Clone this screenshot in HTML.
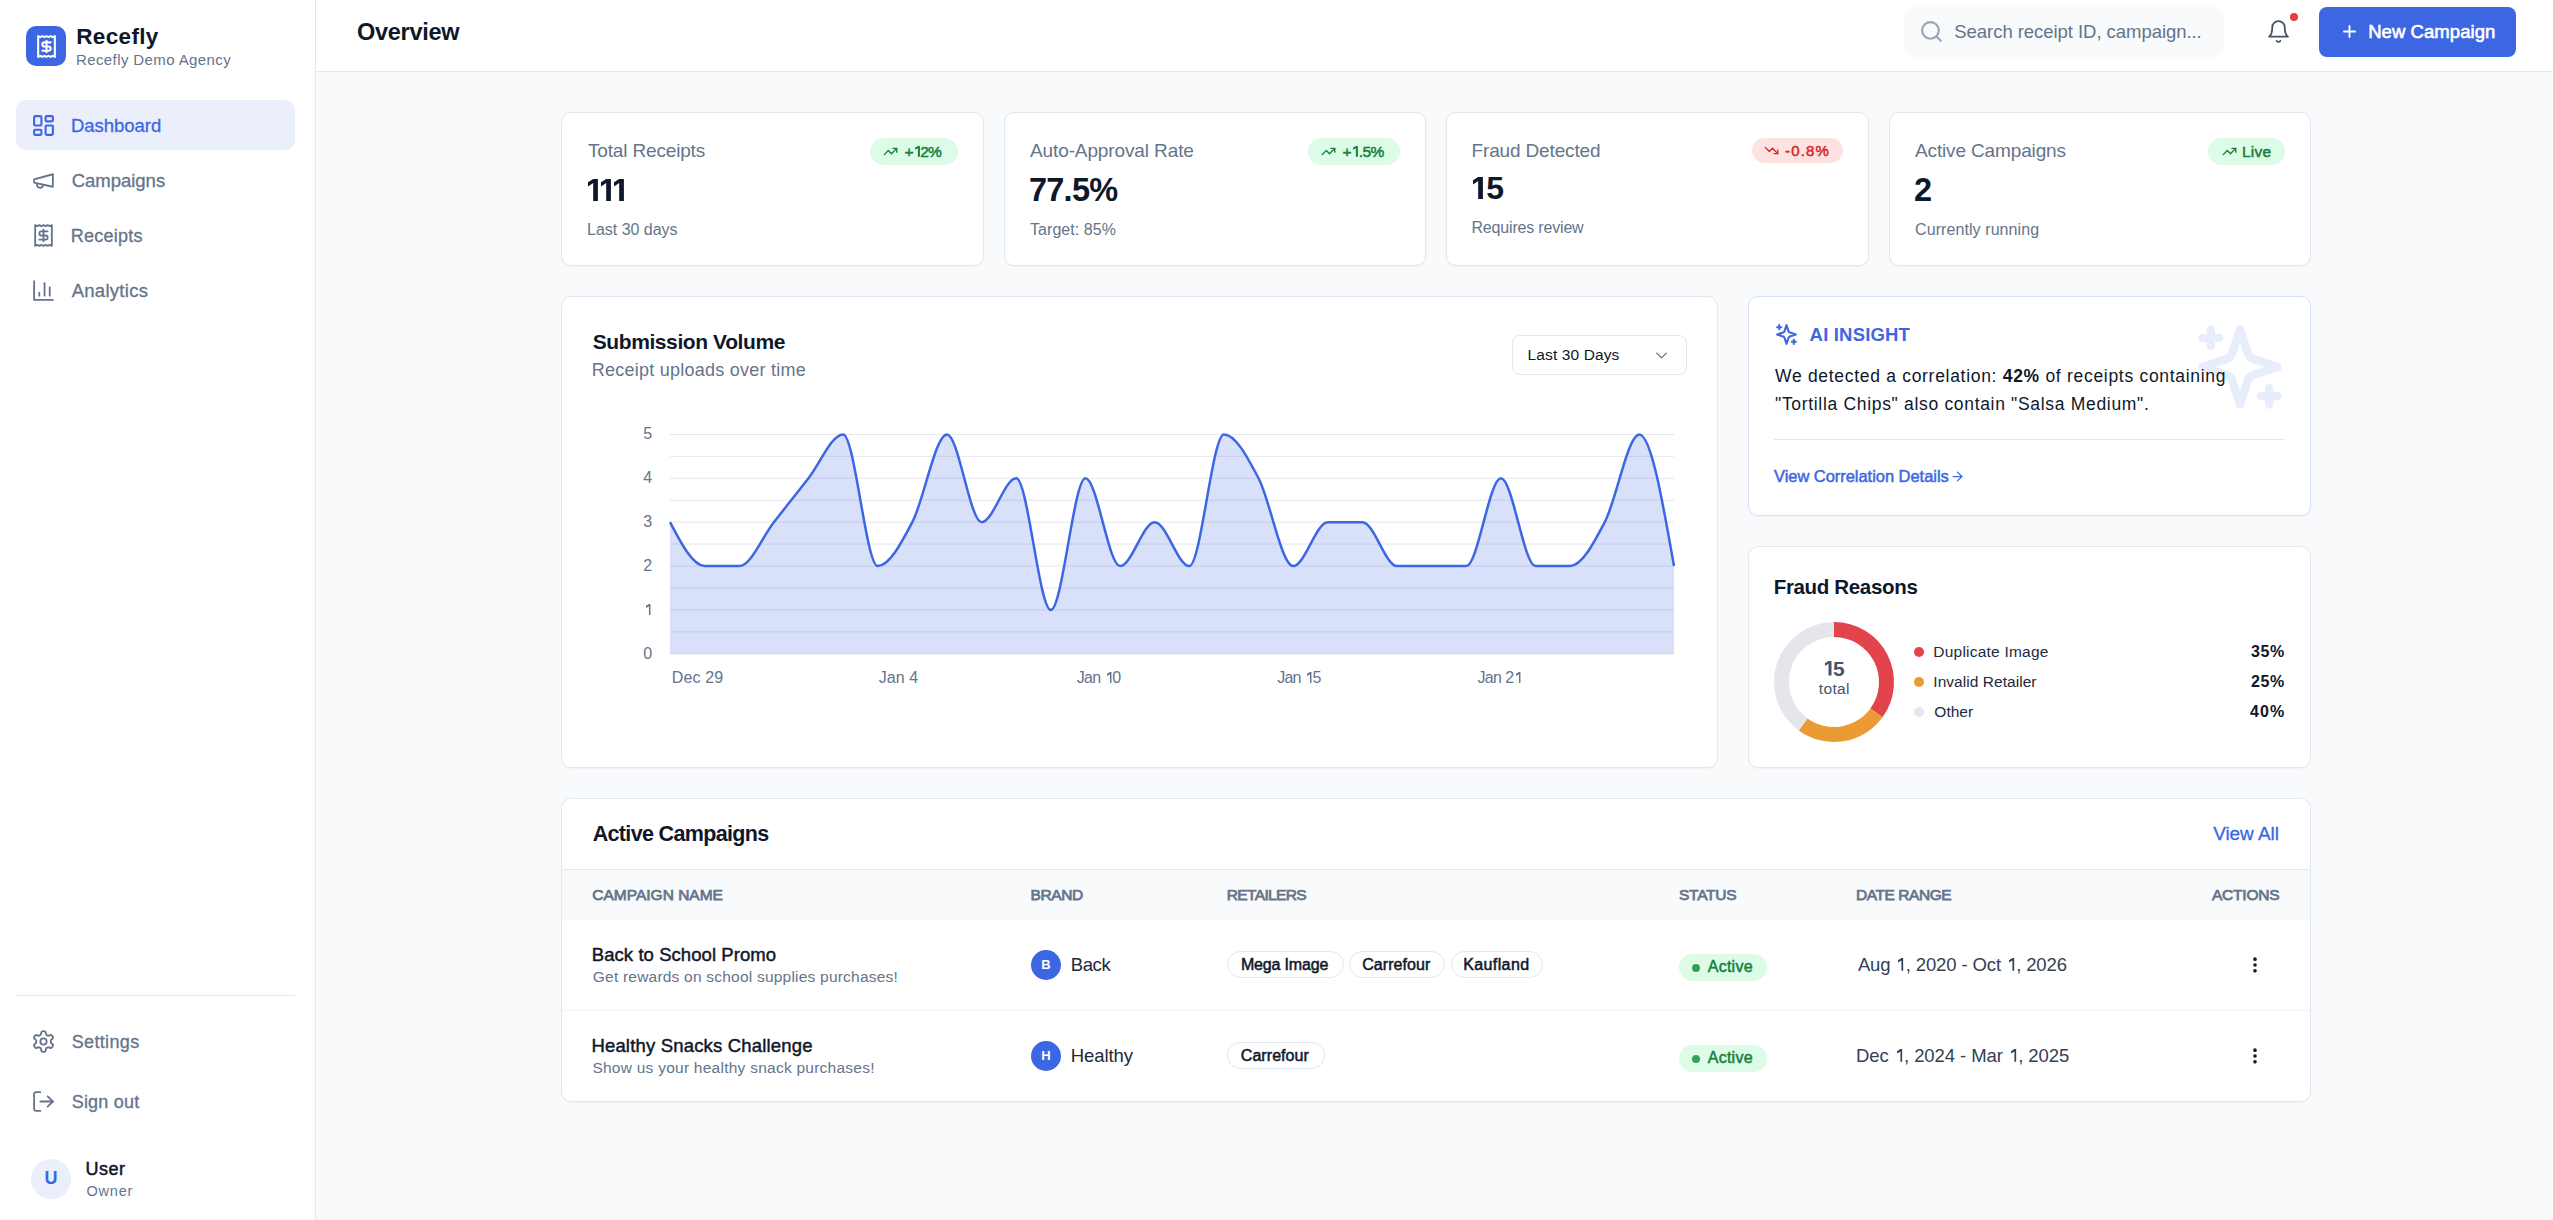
<!DOCTYPE html>
<html><head><meta charset="utf-8"><title>Recefly Overview</title>
<style>
*{box-sizing:border-box;margin:0;padding:0}
html,body{width:2553px;height:1220px;overflow:hidden;background:#f8fafc;font-family:"Liberation Sans",sans-serif}
.a{position:absolute}
.t{position:absolute;white-space:nowrap;line-height:1}
.ic{position:absolute;overflow:visible}
.card{position:absolute;background:#fff;border:1px solid #e2e8f0;border-radius:10px;box-shadow:0 1px 2px rgba(15,23,42,.04)}
.pill{position:absolute;border-radius:999px}
</style></head><body>
<!-- sidebar -->
<div class="a" style="left:0;top:0;width:316px;height:1220px;background:#fff;border-right:1px solid #e2e8f0"></div>
<div class="a" style="left:26px;top:26px;width:40px;height:40px;border-radius:10px;background:#3d67e2"></div>
<div class="a" style="left:16px;top:100px;width:279px;height:50px;border-radius:10px;background:#ebeffc"></div>
<div class="a" style="left:16px;top:995px;width:279px;height:1px;background:#e2e8f0"></div>
<div class="a" style="left:31px;top:1159px;width:40px;height:40px;border-radius:50%;background:#ebeffc"></div>
<!-- header -->
<div class="a" style="left:316px;top:0;width:2237px;height:72px;background:#fff;border-bottom:1px solid #e2e8f0"></div>
<div class="a" style="left:1904px;top:7px;width:320px;height:50px;border-radius:10px;background:#f8fafc"></div>
<div class="a" style="left:2290px;top:12.9px;width:8px;height:8px;border-radius:50%;background:#e53e3e"></div>
<div class="a" style="left:2319px;top:7px;width:197px;height:50px;border-radius:8px;background:#3d67e2"></div>
<!-- stat cards -->
<div class="card" style="left:561px;top:112px;width:423px;height:154px"></div>
<div class="card" style="left:1004px;top:112px;width:422px;height:154px"></div>
<div class="card" style="left:1446px;top:112px;width:423px;height:154px"></div>
<div class="card" style="left:1889px;top:112px;width:422px;height:154px"></div>
<div class="pill" style="left:870px;top:138px;width:88px;height:27px;background:#dcfce7"></div>
<div class="pill" style="left:1308px;top:138px;width:92px;height:27px;background:#dcfce7"></div>
<div class="pill" style="left:1752px;top:138px;width:91px;height:25px;background:#fee2e2"></div>
<div class="pill" style="left:2208px;top:138px;width:77px;height:27px;background:#dcfce7"></div>
<!-- chart card -->
<div class="card" style="left:561px;top:296px;width:1157px;height:472px"></div>
<div class="a" style="left:1512px;top:335px;width:175px;height:40px;border:1px solid #e2e8f0;border-radius:8px;background:#fff"></div>
<svg class="a" style="left:0;top:0" width="2553" height="1220" viewBox="0 0 2553 1220">
<g stroke="#e5e7eb" stroke-width="1"><line x1="670.0" x2="1674.0" y1="653.80" y2="653.80"/><line x1="670.0" x2="1674.0" y1="631.86" y2="631.86"/><line x1="670.0" x2="1674.0" y1="609.92" y2="609.92"/><line x1="670.0" x2="1674.0" y1="587.98" y2="587.98"/><line x1="670.0" x2="1674.0" y1="566.04" y2="566.04"/><line x1="670.0" x2="1674.0" y1="544.10" y2="544.10"/><line x1="670.0" x2="1674.0" y1="522.16" y2="522.16"/><line x1="670.0" x2="1674.0" y1="500.22" y2="500.22"/><line x1="670.0" x2="1674.0" y1="478.28" y2="478.28"/><line x1="670.0" x2="1674.0" y1="456.34" y2="456.34"/><line x1="670.0" x2="1674.0" y1="434.40" y2="434.40"/></g>
<path d="M670.00,522.16C681.54,544.10,693.08,566.04,704.62,566.04C716.16,566.04,727.70,566.04,739.24,566.04C750.78,566.04,762.32,536.79,773.86,522.16C785.40,507.53,796.94,492.91,808.48,478.28C820.02,463.65,831.56,434.40,843.10,434.40C854.64,434.40,866.18,566.04,877.72,566.04C889.26,566.04,900.80,544.10,912.34,522.16C923.89,500.22,935.43,434.40,946.97,434.40C958.51,434.40,970.05,522.16,981.59,522.16C993.13,522.16,1004.67,478.28,1016.21,478.28C1027.75,478.28,1039.29,609.92,1050.83,609.92C1062.37,609.92,1073.91,478.28,1085.45,478.28C1096.99,478.28,1108.53,566.04,1120.07,566.04C1131.61,566.04,1143.15,522.16,1154.69,522.16C1166.23,522.16,1177.77,566.04,1189.31,566.04C1200.85,566.04,1212.39,434.40,1223.93,434.40C1235.47,434.40,1247.01,456.34,1258.55,478.28C1270.09,500.22,1281.63,566.04,1293.17,566.04C1304.71,566.04,1316.25,522.16,1327.79,522.16C1339.33,522.16,1350.87,522.16,1362.41,522.16C1373.95,522.16,1385.49,566.04,1397.03,566.04C1408.57,566.04,1420.11,566.04,1431.66,566.04C1443.20,566.04,1454.74,566.04,1466.28,566.04C1477.82,566.04,1489.36,478.28,1500.90,478.28C1512.44,478.28,1523.98,566.04,1535.52,566.04C1547.06,566.04,1558.60,566.04,1570.14,566.04C1581.68,566.04,1593.22,544.10,1604.76,522.16C1616.30,500.22,1627.84,434.40,1639.38,434.40C1650.92,434.40,1662.46,500.22,1674.00,566.04L1674.00,653.80L670.00,653.80Z" fill="#3d67e2" fill-opacity="0.2" stroke="none"/>
<path d="M670.00,522.16C681.54,544.10,693.08,566.04,704.62,566.04C716.16,566.04,727.70,566.04,739.24,566.04C750.78,566.04,762.32,536.79,773.86,522.16C785.40,507.53,796.94,492.91,808.48,478.28C820.02,463.65,831.56,434.40,843.10,434.40C854.64,434.40,866.18,566.04,877.72,566.04C889.26,566.04,900.80,544.10,912.34,522.16C923.89,500.22,935.43,434.40,946.97,434.40C958.51,434.40,970.05,522.16,981.59,522.16C993.13,522.16,1004.67,478.28,1016.21,478.28C1027.75,478.28,1039.29,609.92,1050.83,609.92C1062.37,609.92,1073.91,478.28,1085.45,478.28C1096.99,478.28,1108.53,566.04,1120.07,566.04C1131.61,566.04,1143.15,522.16,1154.69,522.16C1166.23,522.16,1177.77,566.04,1189.31,566.04C1200.85,566.04,1212.39,434.40,1223.93,434.40C1235.47,434.40,1247.01,456.34,1258.55,478.28C1270.09,500.22,1281.63,566.04,1293.17,566.04C1304.71,566.04,1316.25,522.16,1327.79,522.16C1339.33,522.16,1350.87,522.16,1362.41,522.16C1373.95,522.16,1385.49,566.04,1397.03,566.04C1408.57,566.04,1420.11,566.04,1431.66,566.04C1443.20,566.04,1454.74,566.04,1466.28,566.04C1477.82,566.04,1489.36,478.28,1500.90,478.28C1512.44,478.28,1523.98,566.04,1535.52,566.04C1547.06,566.04,1558.60,566.04,1570.14,566.04C1581.68,566.04,1593.22,544.10,1604.76,522.16C1616.30,500.22,1627.84,434.40,1639.38,434.40C1650.92,434.40,1662.46,500.22,1674.00,566.04" fill="none" stroke="#3d67e2" stroke-width="2.5"/>
</svg>
<!-- AI card -->
<div class="card" style="left:1748px;top:296px;width:563px;height:220px;border-color:#d9e1f9"></div>
<div class="a" style="left:1774px;top:439px;width:511px;height:1px;background:#e2e8f0"></div>
<svg class="ic" style="left:2190px;top:317px;width:100px;height:100px" viewBox="0 0 24 24" fill="none" stroke="#e8edfb" stroke-width="2" stroke-linecap="round" stroke-linejoin="round"><path d="m12 3-1.912 5.813a2 2 0 0 1-1.275 1.275L3 12l5.813 1.912a2 2 0 0 1 1.275 1.275L12 21l1.912-5.813a2 2 0 0 1 1.275-1.275L21 12l-5.813-1.912a2 2 0 0 1-1.275-1.275L12 3Z"/><path d="M5 3v4"/><path d="M19 17v4"/><path d="M3 5h4"/><path d="M17 19h4"/></svg>
<!-- fraud card -->
<div class="card" style="left:1748px;top:546px;width:563px;height:222px"></div>
<svg class="a" style="left:0;top:0" width="2553" height="1220" viewBox="0 0 2553 1220"><path fill="#e3444c" d="M1834.00,622.00A60,60 0 0 1 1882.54,717.27L1870.41,708.45A45,45 0 0 0 1834.00,637.00Z"/><path fill="#eb9b33" d="M1882.54,717.27A60,60 0 0 1 1798.73,730.54L1807.55,718.41A45,45 0 0 0 1870.41,708.45Z"/><path fill="#e4e6eb" d="M1798.73,730.54A60,60 0 0 1 1834.00,622.00L1834.00,637.00A45,45 0 0 0 1807.55,718.41Z"/>
<circle cx="1919" cy="652" r="5" fill="#e3444c"/><circle cx="1919" cy="682" r="5" fill="#eb9b33"/><circle cx="1919" cy="712" r="5" fill="#e4e6eb"/>
</svg>
<!-- campaigns card -->
<div class="card" style="left:561px;top:798px;width:1750px;height:304px;overflow:hidden">
  <div class="a" style="left:0;top:70px;width:1748px;height:1px;background:#e2e8f0"></div>
  <div class="a" style="left:0;top:71px;width:1748px;height:50px;background:#f8fafc"></div>
  <div class="a" style="left:0;top:211px;width:1748px;height:1px;background:#f1f5f9"></div>
</div>
<div class="a" style="left:1031px;top:950px;width:30px;height:30px;border-radius:50%;background:#3d67e2"></div>
<div class="a" style="left:1031px;top:1041px;width:30px;height:30px;border-radius:50%;background:#3d67e2"></div>
<div class="pill" style="left:1227px;top:951px;width:117px;height:27px;border:1px solid #e2e8f0;background:#fff"></div>
<div class="pill" style="left:1349px;top:951px;width:96px;height:27px;border:1px solid #e2e8f0;background:#fff"></div>
<div class="pill" style="left:1451px;top:951px;width:92px;height:27px;border:1px solid #e2e8f0;background:#fff"></div>
<div class="pill" style="left:1227px;top:1042px;width:98px;height:27px;border:1px solid #e2e8f0;background:#fff"></div>
<div class="pill" style="left:1679px;top:954px;width:88px;height:27px;background:#dcfce7"></div>
<div class="pill" style="left:1679px;top:1045px;width:88px;height:27px;background:#dcfce7"></div>
<div class="a" style="left:1692px;top:963.5px;width:8px;height:8px;border-radius:50%;background:#35a257"></div>
<div class="a" style="left:1692px;top:1054.5px;width:8px;height:8px;border-radius:50%;background:#35a257"></div>
<div class="t" style="left:1040px;top:958px;width:12px;text-align:center;font-size:13px;font-weight:700;color:#fff">B</div>
<div class="t" style="left:1040px;top:1049px;width:12px;text-align:center;font-size:13px;font-weight:700;color:#fff">H</div>
<svg class="ic" style="left:33.9px;top:33.8px;width:25px;height:25px" viewBox="0 0 24 24" fill="none" stroke="#ffffff" stroke-width="2" stroke-linecap="round" stroke-linejoin="round" ><path d="M4 2v20l2-1 2 1 2-1 2 1 2-1 2 1 2-1 2 1V2l-2 1-2-1-2 1-2-1-2 1-2-1-2 1Z"/><path d="M16 8h-6a2 2 0 1 0 0 4h4a2 2 0 1 1 0 4H8"/><path d="M12 17.5v-11"/></svg><svg class="ic" style="left:31.0px;top:113.0px;width:25px;height:25px" viewBox="0 0 24 24" fill="none" stroke="#3d67e2" stroke-width="2" stroke-linecap="round" stroke-linejoin="round" ><rect width="7" height="9" x="3" y="3" rx="1"/><rect width="7" height="5" x="14" y="3" rx="1"/><rect width="7" height="9" x="14" y="12" rx="1"/><rect width="7" height="5" x="3" y="16" rx="1"/></svg><svg class="ic" style="left:31.0px;top:168.0px;width:25px;height:25px" viewBox="0 0 24 24" fill="none" stroke="#64748b" stroke-width="1.75" stroke-linecap="round" stroke-linejoin="round" ><path d="m3 11 18-5v12L3 14v-3z"/><path d="M11.6 16.8a3 3 0 1 1-5.8-1.6"/></svg><svg class="ic" style="left:31.0px;top:223.0px;width:25px;height:25px" viewBox="0 0 24 24" fill="none" stroke="#64748b" stroke-width="1.75" stroke-linecap="round" stroke-linejoin="round" ><path d="M4 2v20l2-1 2 1 2-1 2 1 2-1 2 1 2-1 2 1V2l-2 1-2-1-2 1-2-1-2 1-2-1-2 1Z"/><path d="M16 8h-6a2 2 0 1 0 0 4h4a2 2 0 1 1 0 4H8"/><path d="M12 17.5v-11"/></svg><svg class="ic" style="left:31.0px;top:278.0px;width:25px;height:25px" viewBox="0 0 24 24" fill="none" stroke="#64748b" stroke-width="1.75" stroke-linecap="round" stroke-linejoin="round" ><path d="M3 3v18h18"/><path d="M18 17V9"/><path d="M13 17V5"/><path d="M8 17v-3"/></svg><svg class="ic" style="left:31.0px;top:1029.0px;width:25px;height:25px" viewBox="0 0 24 24" fill="none" stroke="#64748b" stroke-width="1.75" stroke-linecap="round" stroke-linejoin="round" ><path d="M12.22 2h-.44a2 2 0 0 0-2 2v.18a2 2 0 0 1-1 1.73l-.43.25a2 2 0 0 1-2 0l-.15-.08a2 2 0 0 0-2.73.73l-.22.38a2 2 0 0 0 .73 2.73l.15.1a2 2 0 0 1 1 1.72v.51a2 2 0 0 1-1 1.74l-.15.09a2 2 0 0 0-.73 2.73l.22.38a2 2 0 0 0 2.73.73l.15-.08a2 2 0 0 1 2 0l.43.25a2 2 0 0 1 1 1.73V20a2 2 0 0 0 2 2h.44a2 2 0 0 0 2-2v-.18a2 2 0 0 1 1-1.73l.43-.25a2 2 0 0 1 2 0l.15.08a2 2 0 0 0 2.73-.73l.22-.39a2 2 0 0 0-.73-2.73l-.15-.08a2 2 0 0 1-1-1.74v-.5a2 2 0 0 1 1-1.74l.15-.09a2 2 0 0 0 .73-2.73l-.22-.38a2 2 0 0 0-2.73-.73l-.15.08a2 2 0 0 1-2 0l-.43-.25a2 2 0 0 1-1-1.73V4a2 2 0 0 0-2-2z"/><circle cx="12" cy="12" r="3"/></svg><svg class="ic" style="left:31.0px;top:1089.0px;width:25px;height:25px" viewBox="0 0 24 24" fill="none" stroke="#64748b" stroke-width="1.75" stroke-linecap="round" stroke-linejoin="round" ><path d="M9 21H5a2 2 0 0 1-2-2V5a2 2 0 0 1 2-2h4"/><polyline points="16 17 21 12 16 7"/><line x1="21" x2="9" y1="12" y2="12"/></svg><svg class="ic" style="left:1919.0px;top:19.0px;width:25px;height:25px" viewBox="0 0 24 24" fill="none" stroke="#94a3b8" stroke-width="2" stroke-linecap="round" stroke-linejoin="round" ><circle cx="11" cy="11" r="8"/><path d="m21 21-4.3-4.3"/></svg><svg class="ic" style="left:2266.0px;top:19.0px;width:25px;height:25px" viewBox="0 0 24 24" fill="none" stroke="#475569" stroke-width="1.75" stroke-linecap="round" stroke-linejoin="round" ><path d="M6 8a6 6 0 0 1 12 0c0 7 3 9 3 9H3s3-2 3-9"/><path d="M10.3 21a1.94 1.94 0 0 0 3.4 0"/></svg><svg class="ic" style="left:2339.5px;top:22.35px;width:19px;height:19px" viewBox="0 0 24 24" fill="none" stroke="#ffffff" stroke-width="2.3" stroke-linecap="round" stroke-linejoin="round" ><path d="M5 12h14"/><path d="M12 5v14"/></svg><svg class="ic" style="left:883.0px;top:144.0px;width:15px;height:15px" viewBox="0 0 24 24" fill="none" stroke="#16803c" stroke-width="2.2" stroke-linecap="round" stroke-linejoin="round" ><polyline points="22 7 13.5 15.5 8.5 10.5 2 17"/><polyline points="16 7 22 7 22 13"/></svg><svg class="ic" style="left:1321.0px;top:144.0px;width:15px;height:15px" viewBox="0 0 24 24" fill="none" stroke="#16803c" stroke-width="2.2" stroke-linecap="round" stroke-linejoin="round" ><polyline points="22 7 13.5 15.5 8.5 10.5 2 17"/><polyline points="16 7 22 7 22 13"/></svg><svg class="ic" style="left:1764.3px;top:143.0px;width:15px;height:15px" viewBox="0 0 24 24" fill="none" stroke="#dc2626" stroke-width="2.2" stroke-linecap="round" stroke-linejoin="round" ><polyline points="22 17 13.5 8.5 8.5 13.5 2 7"/><polyline points="16 17 22 17 22 11"/></svg><svg class="ic" style="left:2222.1px;top:144.0px;width:15px;height:15px" viewBox="0 0 24 24" fill="none" stroke="#16803c" stroke-width="2.2" stroke-linecap="round" stroke-linejoin="round" ><polyline points="22 7 13.5 15.5 8.5 10.5 2 17"/><polyline points="16 7 22 7 22 13"/></svg><svg class="ic" style="left:1651.7px;top:345.5px;width:19px;height:19px" viewBox="0 0 24 24" fill="none" stroke="#6b7280" stroke-width="1.75" stroke-linecap="round" stroke-linejoin="round" ><path d="m6 9 6 6 6-6"/></svg><svg class="ic" style="left:1774.0px;top:322.0px;width:25px;height:25px" viewBox="0 0 24 24" fill="none" stroke="#3d67e2" stroke-width="2" stroke-linecap="round" stroke-linejoin="round" ><path d="m12 3-1.912 5.813a2 2 0 0 1-1.275 1.275L3 12l5.813 1.912a2 2 0 0 1 1.275 1.275L12 21l1.912-5.813a2 2 0 0 1 1.275-1.275L21 12l-5.813-1.912a2 2 0 0 1-1.275-1.275L12 3Z"/><path d="M5 3v4"/><path d="M19 17v4"/><path d="M3 5h4"/><path d="M17 19h4"/></svg><svg class="ic" style="left:1950.0px;top:469.0px;width:15px;height:15px" viewBox="0 0 24 24" fill="none" stroke="#3d67e2" stroke-width="2" stroke-linecap="round" stroke-linejoin="round" ><path d="M5 12h14"/><path d="m12 5 7 7-7 7"/></svg><svg class="ic" style="left:2245.0px;top:954.9px;width:20px;height:20px" viewBox="0 0 24 24" fill="none" stroke="#0f172a" stroke-width="2.4" stroke-linecap="round" stroke-linejoin="round" ><circle cx="12" cy="12" r="1"/><circle cx="12" cy="5" r="1"/><circle cx="12" cy="19" r="1"/></svg><svg class="ic" style="left:2245.0px;top:1045.9px;width:20px;height:20px" viewBox="0 0 24 24" fill="none" stroke="#0f172a" stroke-width="2.4" stroke-linecap="round" stroke-linejoin="round" ><circle cx="12" cy="12" r="1"/><circle cx="12" cy="5" r="1"/><circle cx="12" cy="19" r="1"/></svg>
<svg class="a" style="left:588px;top:178.9px;overflow:visible" width="9.90" height="22.00"><path d="M5.19,0H9.90V22.00H5.19V3.96L0,7.39V3.19Z" fill="#0f172a"/></svg><svg class="a" style="left:600.96px;top:178.9px;overflow:visible" width="9.90" height="22.00"><path d="M5.19,0H9.90V22.00H5.19V3.96L0,7.39V3.19Z" fill="#0f172a"/></svg><svg class="a" style="left:613.92px;top:178.9px;overflow:visible" width="9.90" height="22.00"><path d="M5.19,0H9.90V22.00H5.19V3.96L0,7.39V3.19Z" fill="#0f172a"/></svg><svg class="a" style="left:1473px;top:177px;overflow:visible" width="9.90" height="22.00"><path d="M5.19,0H9.90V22.00H5.19V3.96L0,7.39V3.19Z" fill="#0f172a"/></svg><div class="t" style="left:1486.2px;top:172px;font-size:32px;font-weight:700;color:#0f172a">5</div><svg class="a" style="left:1824.5px;top:661.2px;overflow:visible" width="6.50" height="14.60"><path d="M3.50,0H6.50V14.60H3.50V2.63L0,4.91V2.12Z" fill="#475569"/></svg><div class="t" style="left:1833px;top:658px;font-size:21px;font-weight:700;color:#475569">5</div><div class="t" style="left:76.30px;top:26.00px;font-size:22.5px;font-weight:700;color:#0f172a;letter-spacing:0.328px;">Recefly</div><div class="t" style="left:76.00px;top:52.00px;font-size:15.0px;font-weight:400;color:#64748b;letter-spacing:0.395px;">Recefly Demo Agency</div><div class="t" style="left:71.00px;top:117.00px;font-size:18.5px;font-weight:400;color:#3d67e2;letter-spacing:-0.027px;-webkit-text-stroke:0.3px currentColor;">Dashboard</div><div class="t" style="left:71.70px;top:172.00px;font-size:18.5px;font-weight:400;color:#64748b;letter-spacing:-0.016px;-webkit-text-stroke:0.3px currentColor;">Campaigns</div><div class="t" style="left:70.70px;top:227.00px;font-size:18.0px;font-weight:400;color:#64748b;letter-spacing:0.238px;-webkit-text-stroke:0.3px currentColor;">Receipts</div><div class="t" style="left:71.70px;top:282.00px;font-size:18.5px;font-weight:400;color:#64748b;letter-spacing:0.278px;-webkit-text-stroke:0.3px currentColor;">Analytics</div><div class="t" style="left:71.70px;top:1033.00px;font-size:18.0px;font-weight:400;color:#64748b;letter-spacing:0.352px;-webkit-text-stroke:0.3px currentColor;">Settings</div><div class="t" style="left:71.70px;top:1093.00px;font-size:18.0px;font-weight:400;color:#64748b;letter-spacing:0.207px;-webkit-text-stroke:0.3px currentColor;">Sign out</div><div class="t" style="left:85.50px;top:1160.00px;font-size:18.0px;font-weight:400;color:#0f172a;letter-spacing:0.497px;-webkit-text-stroke:0.5px currentColor;">User</div><div class="t" style="left:86.50px;top:1184.00px;font-size:14.5px;font-weight:400;color:#64748b;letter-spacing:0.780px;">Owner</div><div class="t" style="left:44.50px;top:1169.00px;font-size:18.0px;font-weight:700;color:#3d67e2;">U</div><div class="t" style="left:357.00px;top:21.00px;font-size:23.5px;font-weight:700;color:#0f172a;letter-spacing:-0.276px;">Overview</div><div class="t" style="left:1954.30px;top:23.00px;font-size:18.5px;font-weight:400;color:#64748b;letter-spacing:-0.048px;">Search receipt ID, campaign...</div><div class="t" style="left:2368.20px;top:23.00px;font-size:18.5px;font-weight:400;color:#ffffff;letter-spacing:0.056px;-webkit-text-stroke:0.6px currentColor;">New Campaign</div><div class="t" style="left:588.00px;top:141.00px;font-size:19.0px;font-weight:400;color:#64748b;letter-spacing:-0.164px;">Total Receipts</div><div class="t" style="left:587.00px;top:222.00px;font-size:16.0px;font-weight:400;color:#64748b;letter-spacing:-0.012px;">Last 30 days</div><div class="t" style="left:1030.00px;top:141.00px;font-size:19.0px;font-weight:400;color:#64748b;letter-spacing:-0.115px;">Auto-Approval Rate</div><div class="t" style="left:1029.00px;top:174.00px;font-size:32.5px;font-weight:700;color:#0f172a;letter-spacing:-0.764px;">77.5%</div><div class="t" style="left:1030.00px;top:222.00px;font-size:16.0px;font-weight:400;color:#64748b;letter-spacing:0.054px;">Target: 85%</div><div class="t" style="left:1471.50px;top:141.00px;font-size:19.0px;font-weight:400;color:#64748b;letter-spacing:-0.146px;">Fraud Detected</div><div class="t" style="left:1471.50px;top:220.00px;font-size:16.0px;font-weight:400;color:#64748b;letter-spacing:-0.183px;">Requires review</div><div class="t" style="left:1915.00px;top:141.00px;font-size:19.0px;font-weight:400;color:#64748b;letter-spacing:-0.142px;">Active Campaigns</div><div class="t" style="left:1914.00px;top:174.00px;font-size:32.5px;font-weight:700;color:#0f172a;">2</div><div class="t" style="left:1915.00px;top:222.00px;font-size:16.0px;font-weight:400;color:#64748b;letter-spacing:0.086px;">Currently running</div><div class="t" style="left:904.40px;top:144.00px;font-size:15.5px;font-weight:400;color:#16803c;letter-spacing:-0.931px;-webkit-text-stroke:0.5px currentColor;">+<span style="display:inline-block;position:relative;width:8.62px;height:0;margin-right:-0.931px"><svg style="position:absolute;left:2.16px;bottom:0;overflow:visible" width="4.91" height="10.66"><path d="M2.88,0H4.91V10.66H2.88V2.13L0,3.84V1.81Z" fill="#16803c"/></svg></span>2%</div><div class="t" style="left:1342.40px;top:144.00px;font-size:15.5px;font-weight:400;color:#16803c;letter-spacing:-0.600px;-webkit-text-stroke:0.5px currentColor;">+<span style="display:inline-block;position:relative;width:8.62px;height:0;margin-right:-0.600px"><svg style="position:absolute;left:2.16px;bottom:0;overflow:visible" width="4.91" height="10.66"><path d="M2.88,0H4.91V10.66H2.88V2.13L0,3.84V1.81Z" fill="#16803c"/></svg></span>.5%</div><div class="t" style="left:1785.00px;top:142.50px;font-size:15.0px;font-weight:400;color:#dc2626;letter-spacing:1.163px;-webkit-text-stroke:0.5px currentColor;">-0.8%</div><div class="t" style="left:2241.90px;top:144.00px;font-size:15.5px;font-weight:400;color:#16803c;letter-spacing:0.229px;-webkit-text-stroke:0.5px currentColor;">Live</div><div class="t" style="left:592.70px;top:331.00px;font-size:21.0px;font-weight:700;color:#0f172a;letter-spacing:-0.404px;">Submission Volume</div><div class="t" style="left:591.70px;top:361.00px;font-size:18.0px;font-weight:400;color:#64748b;letter-spacing:0.246px;">Receipt uploads over time</div><div class="t" style="left:1527.60px;top:347.00px;font-size:15.5px;font-weight:400;color:#0f172a;letter-spacing:0.117px;">Last 30 Days</div><div class="t" style="left:1809.60px;top:326.00px;font-size:18.5px;font-weight:700;color:#3d67e2;letter-spacing:0.181px;">AI INSIGHT</div><div class="t" style="left:1774.00px;top:468.00px;font-size:16.5px;font-weight:400;color:#3d67e2;letter-spacing:-0.044px;-webkit-text-stroke:0.5px currentColor;">View Correlation Details</div><div class="t" style="left:1773.70px;top:577.00px;font-size:20.5px;font-weight:700;color:#0f172a;letter-spacing:-0.333px;">Fraud Reasons</div><div class="t" style="left:1818.70px;top:681.00px;font-size:15.5px;font-weight:400;color:#475569;letter-spacing:0.387px;">total</div><div class="t" style="left:1933.30px;top:644.00px;font-size:15.5px;font-weight:400;color:#1e293b;letter-spacing:0.223px;">Duplicate Image</div><div class="t" style="left:1933.30px;top:674.00px;font-size:15.5px;font-weight:400;color:#1e293b;letter-spacing:0.043px;">Invalid Retailer</div><div class="t" style="left:1934.30px;top:704.00px;font-size:15.5px;font-weight:400;color:#1e293b;letter-spacing:0.024px;">Other</div><div class="t" style="left:2251.00px;top:644.00px;font-size:16px;font-weight:700;color:#0f172a;letter-spacing:0.602px;">35%</div><div class="t" style="left:2251.00px;top:674.00px;font-size:16px;font-weight:700;color:#0f172a;letter-spacing:0.602px;">25%</div><div class="t" style="left:2250.00px;top:704.00px;font-size:16px;font-weight:700;color:#0f172a;letter-spacing:1.102px;">40%</div><div class="t" style="left:592.70px;top:824.00px;font-size:21.5px;font-weight:700;color:#0f172a;letter-spacing:-0.662px;">Active Campaigns</div><div class="t" style="left:2213.20px;top:824.00px;font-size:19.0px;font-weight:400;color:#3d67e2;letter-spacing:-0.073px;-webkit-text-stroke:0.3px currentColor;">View All</div><div class="t" style="left:592.30px;top:887.00px;font-size:15.5px;font-weight:400;color:#64748b;-webkit-text-stroke:0.75px currentColor;">CAMPAIGN NAME</div><div class="t" style="left:1030.50px;top:887.00px;font-size:15.5px;font-weight:400;color:#64748b;letter-spacing:-0.378px;-webkit-text-stroke:0.75px currentColor;">BRAND</div><div class="t" style="left:1226.80px;top:887.00px;font-size:15.5px;font-weight:400;color:#64748b;letter-spacing:-0.637px;-webkit-text-stroke:0.75px currentColor;">RETAILERS</div><div class="t" style="left:1679.00px;top:887.00px;font-size:15.5px;font-weight:400;color:#64748b;letter-spacing:-0.251px;-webkit-text-stroke:0.75px currentColor;">STATUS</div><div class="t" style="left:1856.00px;top:887.00px;font-size:15.5px;font-weight:400;color:#64748b;letter-spacing:-0.447px;-webkit-text-stroke:0.75px currentColor;">DATE RANGE</div><div class="t" style="left:2212.00px;top:887.00px;font-size:15.5px;font-weight:400;color:#64748b;letter-spacing:-0.218px;-webkit-text-stroke:0.75px currentColor;">ACTIONS</div><div class="t" style="left:591.80px;top:946.00px;font-size:18.5px;font-weight:400;color:#0f172a;letter-spacing:0.064px;-webkit-text-stroke:0.45px currentColor;">Back to School Promo</div><div class="t" style="left:592.80px;top:969.00px;font-size:15.5px;font-weight:400;color:#64748b;letter-spacing:0.216px;">Get rewards on school supplies purchases!</div><div class="t" style="left:591.40px;top:1037.00px;font-size:18.5px;font-weight:400;color:#0f172a;letter-spacing:0.181px;-webkit-text-stroke:0.45px currentColor;">Healthy Snacks Challenge</div><div class="t" style="left:592.40px;top:1060.00px;font-size:15.5px;font-weight:400;color:#64748b;letter-spacing:0.250px;">Show us your healthy snack purchases!</div><div class="t" style="left:1070.80px;top:956.00px;font-size:18.5px;font-weight:400;color:#1e293b;letter-spacing:-0.426px;">Back</div><div class="t" style="left:1070.80px;top:1047.00px;font-size:18.5px;font-weight:400;color:#1e293b;letter-spacing:-0.096px;">Healthy</div><div class="t" style="left:1857.90px;top:956.00px;font-size:18.5px;font-weight:400;color:#334155;letter-spacing:-0.116px;">Aug <span style="display:inline-block;position:relative;width:10.29px;height:0;margin-right:-0.116px"><svg style="position:absolute;left:2.87px;bottom:0;overflow:visible" width="5.15" height="12.73"><path d="M3.44,0H5.15V12.73H3.44V2.55L0,4.58V2.16Z" fill="#334155"/></svg></span>, 2020 - Oct <span style="display:inline-block;position:relative;width:10.29px;height:0;margin-right:-0.116px"><svg style="position:absolute;left:2.87px;bottom:0;overflow:visible" width="5.15" height="12.73"><path d="M3.44,0H5.15V12.73H3.44V2.55L0,4.58V2.16Z" fill="#334155"/></svg></span>, 2026</div><div class="t" style="left:1856.00px;top:1047.00px;font-size:18.5px;font-weight:400;color:#334155;letter-spacing:-0.068px;">Dec <span style="display:inline-block;position:relative;width:10.29px;height:0;margin-right:-0.068px"><svg style="position:absolute;left:2.87px;bottom:0;overflow:visible" width="5.15" height="12.73"><path d="M3.44,0H5.15V12.73H3.44V2.55L0,4.58V2.16Z" fill="#334155"/></svg></span>, 2024 - Mar <span style="display:inline-block;position:relative;width:10.29px;height:0;margin-right:-0.068px"><svg style="position:absolute;left:2.87px;bottom:0;overflow:visible" width="5.15" height="12.73"><path d="M3.44,0H5.15V12.73H3.44V2.55L0,4.58V2.16Z" fill="#334155"/></svg></span>, 2025</div><div class="t" style="left:1707.70px;top:959.00px;font-size:16.0px;font-weight:400;color:#16803c;letter-spacing:0.266px;-webkit-text-stroke:0.5px currentColor;">Active</div><div class="t" style="left:1707.70px;top:1050.00px;font-size:16.0px;font-weight:400;color:#16803c;letter-spacing:0.266px;-webkit-text-stroke:0.5px currentColor;">Active</div><div class="t" style="left:1240.90px;top:957.00px;font-size:16.0px;font-weight:400;color:#0f172a;letter-spacing:-0.171px;-webkit-text-stroke:0.5px currentColor;">Mega Image</div><div class="t" style="left:1362.20px;top:957.00px;font-size:16.0px;font-weight:400;color:#0f172a;letter-spacing:0.056px;-webkit-text-stroke:0.5px currentColor;">Carrefour</div><div class="t" style="left:1463.20px;top:957.00px;font-size:16.0px;font-weight:400;color:#0f172a;letter-spacing:0.391px;-webkit-text-stroke:0.5px currentColor;">Kaufland</div><div class="t" style="left:1240.80px;top:1048.00px;font-size:16.0px;font-weight:400;color:#0f172a;letter-spacing:0.056px;-webkit-text-stroke:0.5px currentColor;">Carrefour</div><div class="t" style="left:643.30px;top:426.00px;font-size:16.0px;font-weight:400;color:#64748b;">5</div><div class="t" style="left:643.30px;top:469.90px;font-size:16.0px;font-weight:400;color:#64748b;">4</div><div class="t" style="left:643.30px;top:513.80px;font-size:16.0px;font-weight:400;color:#64748b;">3</div><div class="t" style="left:643.30px;top:557.70px;font-size:16.0px;font-weight:400;color:#64748b;">2</div><div class="t" style="left:643.30px;top:601.60px;font-size:16.0px;font-weight:400;color:#64748b;"><span style="display:inline-block;position:relative;width:8.90px;height:0;margin-right:0.000px"><svg style="position:absolute;left:2.52px;bottom:0;overflow:visible" width="4.46" height="11.01"><path d="M2.97,0H4.46V11.01H2.97V2.20L0,3.96V1.87Z" fill="#64748b"/></svg></span></div><div class="t" style="left:643.30px;top:645.50px;font-size:16.0px;font-weight:400;color:#64748b;">0</div><div class="t" style="left:671.75px;top:670.00px;font-size:16.0px;font-weight:400;color:#64748b;letter-spacing:0.141px;">Dec 29</div><div class="t" style="left:878.65px;top:670.00px;font-size:16.0px;font-weight:400;color:#64748b;letter-spacing:0.064px;">Jan 4</div><div class="t" style="left:1076.65px;top:670.00px;font-size:16.0px;font-weight:400;color:#64748b;letter-spacing:-0.688px;">Jan <span style="display:inline-block;position:relative;width:8.90px;height:0;margin-right:-0.688px"><svg style="position:absolute;left:2.52px;bottom:0;overflow:visible" width="4.46" height="11.01"><path d="M2.97,0H4.46V11.01H2.97V2.20L0,3.96V1.87Z" fill="#64748b"/></svg></span>0</div><div class="t" style="left:1277.30px;top:670.00px;font-size:16.0px;font-weight:400;color:#64748b;letter-spacing:-0.788px;">Jan <span style="display:inline-block;position:relative;width:8.90px;height:0;margin-right:-0.788px"><svg style="position:absolute;left:2.52px;bottom:0;overflow:visible" width="4.46" height="11.01"><path d="M2.97,0H4.46V11.01H2.97V2.20L0,3.96V1.87Z" fill="#64748b"/></svg></span>5</div><div class="t" style="left:1477.40px;top:670.00px;font-size:16.0px;font-weight:400;color:#64748b;letter-spacing:-0.588px;">Jan 2<span style="display:inline-block;position:relative;width:8.90px;height:0;margin-right:-0.588px"><svg style="position:absolute;left:2.52px;bottom:0;overflow:visible" width="4.46" height="11.01"><path d="M2.97,0H4.46V11.01H2.97V2.20L0,3.96V1.87Z" fill="#64748b"/></svg></span></div>
<div class="t" style="left:1775px;top:368px;font-size:17.5px;letter-spacing:0.7px;color:#0f172a">We detected a correlation: <b style="font-weight:700">42%</b> of receipts containing</div>
<div class="t" style="left:1775px;top:396px;font-size:17.5px;letter-spacing:0.68px;color:#0f172a">"Tortilla Chips" also contain "Salsa Medium".</div>
</body></html>
